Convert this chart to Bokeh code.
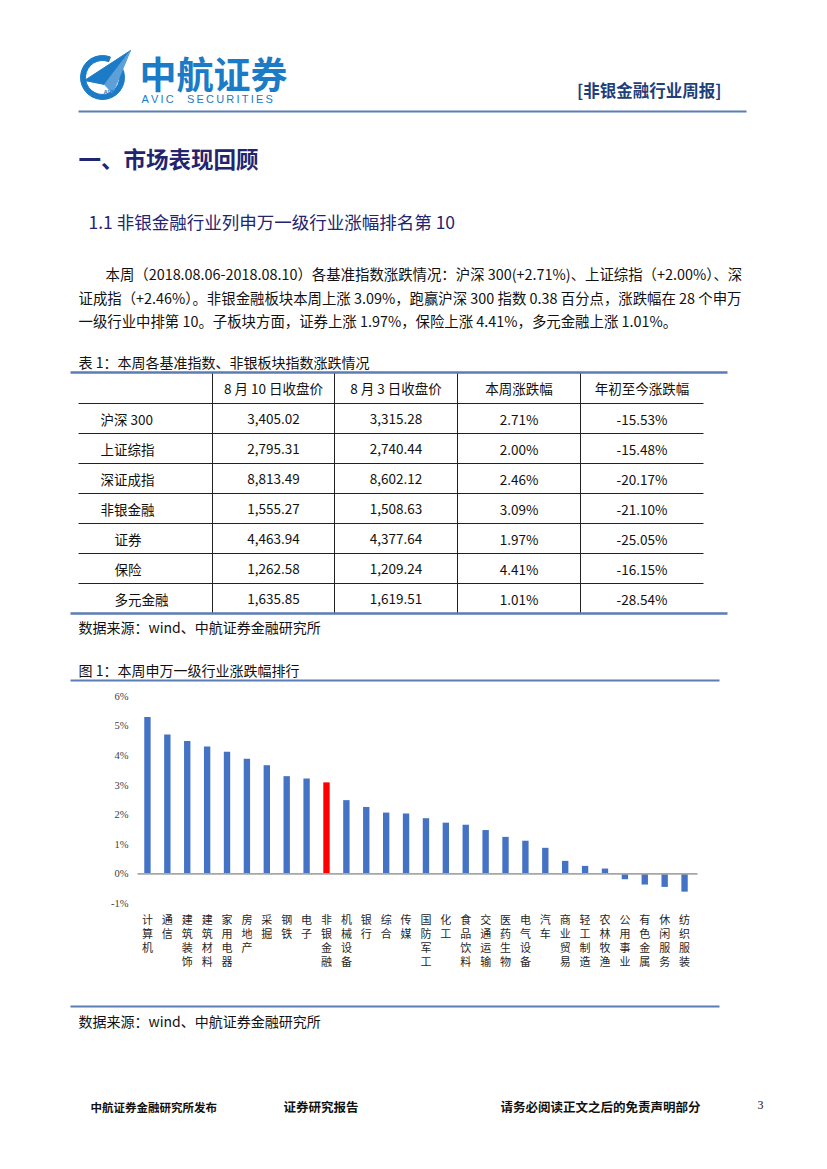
from bokeh.plotting import figure
from bokeh.models import Range1d
from bokeh.core.properties import value
from bokeh.embed import file_html
from bokeh.resources import INLINE

# ---------------- data ----------------
brand_cn = "中航证券"
brand_en = "\u2009".join("AVIC") + "\u2003\u2009" + "\u2009".join("SECURITIES")
report_tag = "[非银金融行业周报]"
heading1 = "一、市场表现回顾"
heading2 = "1.1 非银金融行业列申万一级行业涨幅排名第 10"
para_lines = [
    "本周（2018.08.06-2018.08.10）各基准指数涨跌情况：沪深 300(+2.71%)、上证综指（+2.00%）、深",
    "证成指（+2.46%）。非银金融板块本周上涨 3.09%，跑赢沪深 300 指数 0.38 百分点，涨跌幅在 28 个申万",
    "一级行业中排第 10。子板块方面，证券上涨 1.97%，保险上涨 4.41%，多元金融上涨 1.01%。",
]
table_caption = "表 1：本周各基准指数、非银板块指数涨跌情况"
table_headers = ["8 月 10 日收盘价", "8 月 3 日收盘价", "本周涨跌幅", "年初至今涨跌幅"]
table_rows = ["沪深 300", "上证综指", "深证成指", "非银金融", "证券", "保险", "多元金融"]
table_sub = [False, False, False, False, True, True, True]
close_aug10 = [3405.02, 2795.31, 8813.49, 1555.27, 4463.94, 1262.58, 1635.85]
close_aug3 = [3315.28, 2740.44, 8602.12, 1508.63, 4377.64, 1209.24, 1619.51]
week_chg = [2.71, 2.00, 2.46, 3.09, 1.97, 4.41, 1.01]
ytd_chg = [-15.53, -15.48, -20.17, -21.10, -25.05, -16.15, -28.54]
source_text = "数据来源：wind、中航证券金融研究所"
chart_caption = "图 1：本周申万一级行业涨跌幅排行"

industries = ["计算机", "通信", "建筑装饰", "建筑材料", "家用电器", "房地产", "采掘", "钢铁",
              "电子", "非银金融", "机械设备", "银行", "综合", "传媒", "国防军工", "化工",
              "食品饮料", "交通运输", "医药生物", "电气设备", "汽车", "商业贸易", "轻工制造",
              "农林牧渔", "公用事业", "有色金属", "休闲服务", "纺织服装"]
changes = [5.30, 4.71, 4.49, 4.30, 4.12, 3.89, 3.67, 3.30, 3.22, 3.09, 2.49, 2.26, 2.07, 2.04,
           1.88, 1.73, 1.66, 1.48, 1.25, 1.12, 0.88, 0.44, 0.27, 0.18, -0.18, -0.36, -0.44, -0.60]
highlight = "非银金融"
y_ticks = [-1, 0, 1, 2, 3, 4, 5, 6]

footer_items = ["中航证券金融研究所发布", "证券研究报告", "请务必阅读正文之后的免责声明部分"]
page_no = "3"

# ---------------- page geometry (pixels on the page) ----------------
W, H = 811, 1153
PX0, PY0 = 0, 0
PX1, PY1 = PX0 + W, PY0 + H
CH_LEFT, CH_RIGHT = 137.0, 694.0      # chart plotting area, x
CH_TOP, CH_BOTTOM = 695.7, 903.0      # chart plotting area, y (6% .. -1%)
Y_MAX, Y_MIN = y_ticks[-1], y_ticks[0]

CJK = value("Noto Sans CJK SC")
NAVY = "#232470"
BRAND = "#1b7bc6"
RULE = "#5b7db3"

# chart scales expressed so that the chart area lands where it sits on the page
ncat = len(industries)
px_per_pct = (CH_BOTTOM - CH_TOP) / (Y_MAX - Y_MIN)
cy_top = Y_MAX + (CH_TOP - PY0) / px_per_pct
cy_bot = Y_MIN - (PY1 - CH_BOTTOM) / px_per_pct
unit_px = (CH_RIGHT - CH_LEFT) / ncat
cx_start = -(CH_LEFT - PX0) / unit_px
cx_end = ncat + (PX1 - CH_RIGHT) / unit_px
cat_pos = [i + 0.5 for i in range(ncat)]

p = figure(width=W, height=H, x_range=Range1d(PX0, PX1), y_range=Range1d(PY1, PY0),
           x_axis_type=None, y_axis_type=None, output_backend="svg",
           toolbar_location=None, tools="", min_border=0)
p.outline_line_color = None
p.background_fill_color = "white"
p.border_fill_color = "white"
p.extra_x_ranges = {"cx": Range1d(cx_start, cx_end)}
p.extra_y_ranges = {"cy": Range1d(cy_bot, cy_top)}


def txt(x, y, s, size, color="#111111", bold=False, align="left", font=CJK, **kw):
    p.text(x=[x], y=[y], text=[s], text_font=font, text_font_size=f"{size}px",
           text_color=color, text_align=align, text_baseline="middle",
           text_font_style="bold" if bold else "normal", **kw)


# ---------------- header ----------------
p.annular_wedge(x=[102], y=[77], inner_radius=17, outer_radius=22, start_angle=1.2,
                end_angle=0.5, direction="anticlock", color=BRAND)
p.patch(x=[84, 130, 104], y=[80, 50, 84], color=BRAND)
p.patch(x=[104, 130, 112], y=[84, 50, 93], color="#5d9fd8")
txt(103, 91, "AVIC", 6, color=BRAND, bold=True, font=value("Liberation Sans"))
txt(139, 72, brand_cn, 37, color=BRAND, bold=True)
txt(141, 98, brand_en, 11, color=BRAND, font=value("Liberation Sans"))
txt(721, 89, report_tag, 16.5, color="#1f3f7a", bold=True, align="right")
p.line(x=[78, 746], y=[111, 111], line_color=RULE, line_width=2.2)

txt(78, 157, heading1, 22.5, color=NAVY, bold=True)
txt(88, 221, heading2, 17.5, color=NAVY)

para_x = [105, 78, 78]
para_y = [273, 297, 320]
for lx, ly, s in zip(para_x, para_y, para_lines):
    txt(lx, ly, s, 14.4, color="#111111")

# ---------------- table ----------------
txt(78, 361, table_caption, 14)
t_top = 372
hdr_h = 31
row_h = 30
col_x = [78, 212, 334, 457, 580, 703]
n = len(table_rows)
row_lines = [t_top + hdr_h + i * row_h for i in range(n)]
t_bot = t_top + hdr_h + n * row_h
p.segment(x0=[col_x[0]] * n, y0=row_lines, x1=[col_x[-1]] * n, y1=row_lines,
          line_color="#222222", line_width=1)
p.segment(x0=col_x[1:-1], y0=[t_top] * 4, x1=col_x[1:-1], y1=[t_bot] * 4,
          line_color="#222222", line_width=1)
p.line(x=[70, 727], y=[t_top, t_top], line_color=RULE, line_width=2.4)
p.line(x=[70, 727], y=[t_bot, t_bot], line_color=RULE, line_width=2.4)

centers = [(col_x[i] + col_x[i + 1]) / 2 for i in range(1, 5)]
for cx, h in zip(centers, table_headers):
    txt(cx, t_top + hdr_h / 2, h, 13.5, align="center")
for i in range(n):
    cyy = t_top + hdr_h + i * row_h + row_h / 2
    txt(114 if table_sub[i] else 100, cyy, table_rows[i], 13.5)
    cells = [f"{close_aug10[i]:,.2f}", f"{close_aug3[i]:,.2f}",
             f"{week_chg[i]:.2f}%", f"{ytd_chg[i]:.2f}%"]
    for cx, c in zip(centers, cells):
        txt(cx, cyy, c, 13.5, align="center")

txt(78, 626, source_text, 14)

# ---------------- chart ----------------
txt(78, 669, chart_caption, 14)
p.line(x=[70, 719], y=[680, 680], line_color=RULE, line_width=2.2)

colors = ["#ff0000" if s == highlight else "#4472c4" for s in industries]
p.vbar(x=cat_pos, top=changes, bottom=0, width=0.32, fill_color=colors, line_color=None,
       x_range_name="cx", y_range_name="cy")
# zero line
p.segment(x0=[CH_LEFT], x1=[CH_RIGHT + 3], y0=[0], y1=[0], line_color="#a6a6a6",
          line_width=1.6, y_range_name="cy")
# y tick labels
p.text(x=[CH_LEFT - 9] * len(y_ticks), y=y_ticks, text=[f"{t}%" for t in y_ticks],
       text_font=value("Liberation Serif"), text_font_size="10.5px", text_color="#404040",
       text_align="right", text_baseline="middle", y_range_name="cy")
# category labels, stacked vertically
p.text(x=cat_pos, y=[CH_BOTTOM + 7] * ncat,
       text=["\n".join(s) for s in industries], text_font=CJK, text_font_size="11px",
       text_line_height=0.88, text_color="#262626", text_align="center",
       text_baseline="top", x_range_name="cx")

p.line(x=[70, 719], y=[1006, 1006], line_color=RULE, line_width=2.2)
txt(78, 1020, source_text, 14)

# ---------------- footer ----------------
footer_x = [90, 283, 500]
footer_size = [11.5, 12.5, 12.5]
for fx, fs, s in zip(footer_x, footer_size, footer_items):
    txt(fx, 1106, s, fs, color="#111111", bold=True)
txt(757, 1104, page_no, 12, font=value("Liberation Serif"))

open("out.html", "w").write(file_html(p, INLINE))
